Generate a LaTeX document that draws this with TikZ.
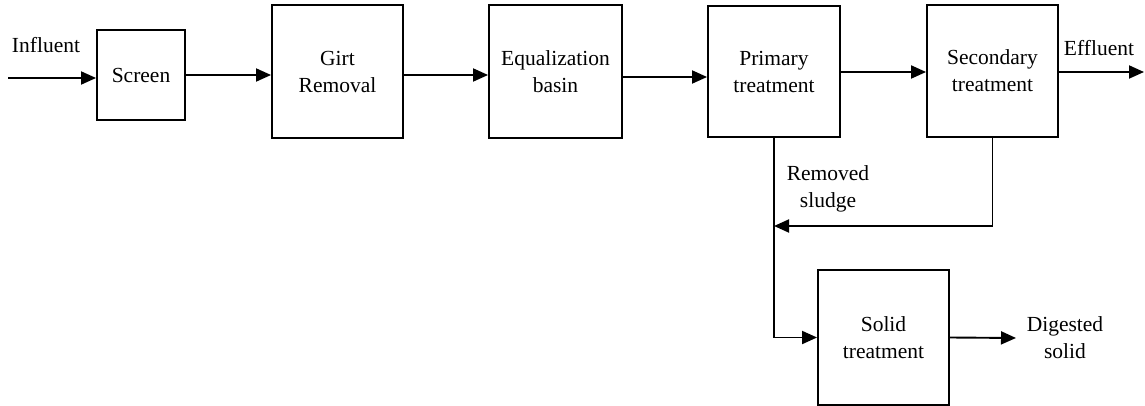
\documentclass[tikz,border=0pt]{standalone}
\usepackage{fontspec}
\setmainfont{Liberation Serif}
\usetikzlibrary{arrows.meta}
\begin{document}
\begin{tikzpicture}[x=1pt,y=-1pt,
  box/.style={draw, line width=1.9pt, rectangle, inner sep=0pt, align=center, font=\fontsize{21.5}{27}\selectfont},
  lbl/.style={align=center, inner sep=0pt, font=\fontsize{21.5}{27}\selectfont},
  arr/.style={line width=1.9pt, -{Triangle[length=15pt,width=13pt]}}]
\useasboundingbox (0,0) rectangle (1145,406);
\node[box, minimum width=88pt, minimum height=90pt] (screen) at (141,75) {Screen};
\node[box, minimum width=131pt, minimum height=133pt] (girt) at (337.5,71.5) {Girt\\Removal};
\node[box, minimum width=133pt, minimum height=133pt] (eq) at (555.5,71.5) {Equalization\\basin};
\node[box, minimum width=132pt, minimum height=131pt] (prim) at (774,71.5) {Primary\\treatment};
\node[box, minimum width=131pt, minimum height=132pt] (sec) at (992.5,71) {Secondary\\treatment};
\node[box, minimum width=131pt, minimum height=135pt] (solid) at (883.5,337.5) {Solid\\treatment};
\node[lbl] (influent) at (46,45) {Influent};
\node[lbl] (effluent) at (1099,48) {Effluent};
\node[lbl] (sludge) at (828,189) {Removed\\sludge};
\node[lbl] (digested) at (1065,338) {Digested\\solid};
\coordinate (in) at (8,78);
\coordinate (out) at (1144,72);
\coordinate (dig) at (1016,338);
\draw[arr] (in) -- (in -| screen.west);
\draw[arr] (screen.east |- 0,75) -- (girt.west |- 0,75);
\draw[arr] (girt.east |- 0,75) -- (eq.west |- 0,75);
\draw[arr] (eq.east |- 0,77) -- (prim.west |- 0,77);
\draw[arr] (prim.east |- 0,72) -- (sec.west |- 0,72);
\draw[arr] (sec.east |- out) -- (out);
\draw[arr] (prim.south) -- (prim.south |- solid.west) -- (solid.west);
\draw[arr] (sec.south) -- (sec.south |- 0,226) -- (prim.south |- 0,226);
\draw[arr] (solid.east) -- (dig);
\end{tikzpicture}
\end{document}
